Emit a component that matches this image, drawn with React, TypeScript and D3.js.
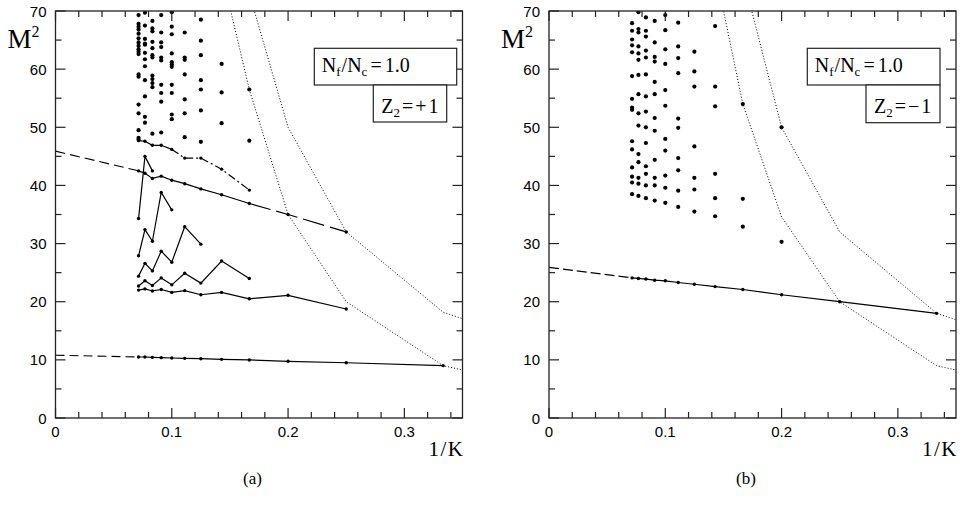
import React from "react";
import * as d3 from "d3";

// K values used as x = 1/K
const kAll = [14, 13, 12, 11, 10, 9, 8, 7, 6, 5, 4, 3];

// panel (a), Z2 = +1 : connected states
const aLowest = [10.49, 10.49, 10.43, 10.38, 10.32, 10.26, 10.2, 10.09, 9.98, 9.75, 9.5, 9.0];
const aLowestIntercept = 10.8;
const aSecond = [22.0, 22.2, 21.85, 22.1, 21.6, 21.9, 21.2, 21.6, 20.5, 21.1, 18.75];
const aThird = [22.7, 23.6, 22.8, 24.1, 22.9, 24.9, 23.2, 27.0, 24.0];
const aFourth = [24.4, 26.6, 25.3, 28.7, 26.8, 32.9, 29.9];
const aFifth = [27.9, 32.4, 30.4, 38.8, 35.8];
const aSixth = [34.3, 45.0, 42.5];
const aUpper = [42.5, 42.1, 41.2, 41.6, 40.9, 40.3, 39.4, 38.4, 36.9, 35.0, 32.0];
const aUpperIntercept = 45.9;
const aTop = [47.7, 47.6, 46.9, 46.9, 46.2, 44.7, 44.7, 42.8, 39.2];

// panel (a) loose points, by K
const aDots: Record<number, number[]> = {
  14: [69.3, 67.8, 67.3, 66.8, 66.1, 65.3, 64.6, 64.0, 63.4, 63.0, 62.6, 59.1, 58.7, 53.9, 52.4, 49.5, 48.2, 47.9],
  13: [69.7, 67.5, 65.2, 64.4, 64.2, 62.8, 61.7, 60.5, 58.1, 55.3, 51.8, 50.8],
  12: [68.3, 67.0, 66.5, 64.7, 63.6, 62.4, 62.0, 58.9, 58.3, 57.6, 56.9, 48.9],
  11: [69.3, 66.3, 64.6, 63.8, 62.0, 61.5, 57.3, 55.9, 54.4, 49.1],
  10: [69.8, 67.3, 66.0, 62.7, 61.2, 60.8, 60.4, 57.3, 55.9, 52.2, 51.4],
  9: [66.3, 62.0, 61.6, 59.1, 54.8, 52.4, 48.3],
  8: [68.5, 64.9, 62.4, 58.1, 56.5, 52.9, 47.5],
  7: [60.9, 56.0, 50.7],
  6: [56.5, 47.7],
};

// panel (b), Z2 = -1
const bLowest = [24.1, 24.0, 23.9, 23.7, 23.6, 23.3, 23.0, 22.6, 22.1, 21.2, 20.0, 18.0];
const bLowestIntercept = 25.9;
const bDots: Record<number, number[]> = {
  14: [67.9, 66.6, 65.1, 64.1, 62.9, 58.8, 54.9, 53.4, 53.0, 47.6, 46.2, 43.1, 41.5, 40.5, 38.5],
  13: [69.8, 66.9, 66.3, 63.9, 62.7, 61.6, 59.0, 55.7, 52.4, 50.3, 45.4, 44.0, 41.3, 40.3, 38.2],
  12: [68.9, 66.6, 65.6, 63.2, 62.0, 59.1, 55.3, 52.7, 50.0, 47.3, 43.3, 42.0, 40.0, 37.8],
  11: [68.3, 64.6, 62.1, 61.3, 57.8, 55.7, 51.6, 49.4, 44.4, 41.3, 40.0, 37.4],
  10: [69.3, 66.7, 63.4, 60.9, 56.4, 53.7, 48.0, 46.0, 41.7, 39.6, 37.0],
  9: [68.0, 63.9, 61.9, 59.3, 51.5, 49.9, 44.7, 42.6, 39.1, 36.3],
  8: [63.0, 59.6, 57.0, 46.7, 41.3, 39.3, 35.5],
  7: [67.4, 57.0, 53.6, 42.0, 37.8, 34.7],
  6: [54.0, 37.7, 32.9],
  5: [50.0, 30.3],
};

// dotted threshold curves, K = 7..2
const curveK = [7, 6, 5, 4, 3, 2];
const aCurveA = [76.6, 56.5, 35.0, 20.0, 9.0, 1.5];
const aCurveB = [95, 73.0, 50.0, 32.0, 18.2, 7.0];
const bCurveA = [77.0, 54.0, 34.6, 20.0, 9.0, 1.5];
const bCurveB = [98, 76.0, 50.0, 32.0, 18.0, 7.0];

const xTicks = d3.range(0, 0.3501, 0.02);
const xLabels = [0, 0.1, 0.2, 0.3];
const yTicks = d3.range(0, 70.01, 5);
const yLabels = [0, 10, 20, 30, 40, 50, 60, 70];

const SERIF = "'Liberation Serif', 'DejaVu Serif', Times, serif";
const SANS = "'Liberation Sans', Arial, Helvetica, sans-serif";
const INK = "#222";

type Seg = { ks: number[]; vals: number[]; dash?: string };

type PanelProps = {
  id: string;
  left: number;
  segs: Seg[];
  extensions: { k: number; from: number; to: number; dash: string }[];
  vertices: { ks: number[]; vals: number[] }[];
  dots: Record<number, number[]>;
  curves: number[][];
  legend: { b1: number[]; b2: number[]; sign: string };
  tag: string;
};

const Panel: React.FC<PanelProps> = ({ id, left, segs, extensions, vertices, dots, curves, legend, tag }) => {
  const x = d3.scaleLinear().domain([0, 0.35]).range([left, left + 407]);
  const y = d3.scaleLinear().domain([0, 70]).range([418, 11]);
  const line = d3
    .line<[number, number]>()
    .x((d) => x(d[0]))
    .y((d) => y(d[1]));
  const pts = (ks: number[], vals: number[]) => vals.map((v, i) => [1 / ks[i], v] as [number, number]);

  const [x0, x1] = x.range();
  const [yb, yt] = y.range();

  return (
    <g>
      <defs>
        <clipPath id={id}>
          <rect x={x0} y={yt} width={x1 - x0} height={yb - yt} />
        </clipPath>
      </defs>

      <g clipPath={`url(#${id})`} fill="none" stroke="#000">
        {curves.map((c, i) => (
          <path key={i} d={line(pts(curveK, c)) as string} strokeWidth={1} strokeDasharray="1,2" />
        ))}
        {extensions.map((e, i) => (
          <path
            key={"e" + i}
            d={line([[0, e.from], [1 / e.k, e.to]]) as string}
            strokeWidth={1.1}
            strokeDasharray={e.dash}
          />
        ))}
        {segs.map((s, i) => (
          <path key={"s" + i} d={line(pts(s.ks, s.vals)) as string} strokeWidth={1.2} strokeDasharray={s.dash} />
        ))}
      </g>

      <g clipPath={`url(#${id})`} fill="#000">
        {vertices.map((v, i) =>
          pts(v.ks, v.vals).map((p, j) => <circle key={`v${i}-${j}`} cx={x(p[0])} cy={y(p[1])} r={1.7} />)
        )}
        {Object.entries(dots).map(([k, vals]) =>
          vals.map((v, j) => <circle key={`d${k}-${j}`} cx={x(1 / +k)} cy={y(v)} r={2.1} />)
        )}
      </g>

      {/* frame and ticks on all sides */}
      <rect x={x0} y={yt} width={x1 - x0} height={yb - yt} fill="none" stroke={INK} strokeWidth={1.3} />
      <g stroke={INK} strokeWidth={1.2}>
        {xTicks.map((t) => {
          const major = Math.abs(t * 10 - Math.round(t * 10)) < 1e-6;
          const len = major ? 10 : 6;
          return (
            <g key={"xt" + t}>
              <line x1={x(t)} x2={x(t)} y1={yb} y2={yb - len} />
              <line x1={x(t)} x2={x(t)} y1={yt} y2={yt + len} />
            </g>
          );
        })}
        {yTicks.map((t) => {
          const len = t % 10 === 0 ? 10 : 6;
          return (
            <g key={"yt" + t}>
              <line x1={x0} x2={x0 + len} y1={y(t)} y2={y(t)} />
              <line x1={x1} x2={x1 - len} y1={y(t)} y2={y(t)} />
            </g>
          );
        })}
      </g>

      <g fontFamily={SANS} fontSize={15} fill="#000">
        {xLabels.map((t) => (
          <text key={"xl" + t} x={x(t)} y={437} textAnchor="middle">
            {t === 0 ? "0" : t.toFixed(1)}
          </text>
        ))}
        {yLabels.map((t) => (
          <text key={"yl" + t} x={x0 - 9} y={y(t) + 5.5} textAnchor="end">
            {t}
          </text>
        ))}
      </g>

      <g fontFamily={SERIF} fill="#000">
        <text x={left - 48} y={48} fontSize={27}>
          M
          <tspan fontSize={16} dy={-11}>
            2
          </tspan>
        </text>
        <text x={left + 373} y={456} fontSize={21} letterSpacing={1.5}>
          1/K
        </text>
        <text x={left + 197} y={484} fontSize={17} textAnchor="middle">
          {tag}
        </text>
      </g>

      {/* legend boxes */}
      <g fontFamily={SERIF} fill="#000">
        <rect
          x={legend.b1[0]}
          y={legend.b1[1]}
          width={legend.b1[2] - legend.b1[0]}
          height={legend.b1[3] - legend.b1[1]}
          fill="#fff"
          stroke={INK}
          strokeWidth={1.2}
        />
        <rect
          x={legend.b2[0]}
          y={legend.b2[1]}
          width={legend.b2[2] - legend.b2[0]}
          height={legend.b2[3] - legend.b2[1]}
          fill="#fff"
          stroke={INK}
          strokeWidth={1.2}
        />
        <text x={legend.b1[0] + 7.5} y={legend.b1[1] + 23.5} fontSize={20}>
          N
          <tspan fontSize={13} dy={4}>
            f
          </tspan>
          <tspan dy={-4} dx={1}>
            /N
          </tspan>
          <tspan fontSize={13} dy={4}>
            c
          </tspan>
          <tspan dy={-4} dx={3}>
            =
          </tspan>
          <tspan dx={3}>1.0</tspan>
        </text>
        <text x={legend.b2[0] + 8} y={legend.b2[1] + 27.5} fontSize={20}>
          Z
          <tspan fontSize={13} dy={4}>
            2
          </tspan>
          <tspan dy={-4} dx={2}>
            =
          </tspan>
          <tspan dx={2}>{legend.sign}</tspan>
          <tspan dx={2}>1</tspan>
        </text>
      </g>
    </g>
  );
};

const App: React.FC = () => {
  const ks = (n: number) => kAll.slice(0, n);
  const aSegs: Seg[] = [
    { ks: kAll, vals: aLowest },
    { ks: ks(11), vals: aSecond },
    { ks: ks(9), vals: aThird },
    { ks: ks(7), vals: aFourth },
    { ks: ks(5), vals: aFifth },
    { ks: ks(3), vals: aSixth },
    { ks: ks(9), vals: aUpper.slice(0, 9) },
    { ks: kAll.slice(8, 11), vals: aUpper.slice(8, 11), dash: "22,6" },
    { ks: ks(5), vals: aTop.slice(0, 5) },
    { ks: kAll.slice(4, 9), vals: aTop.slice(4, 9), dash: "8,3,2,3" },
  ];
  const aVerts = [
    { ks: kAll, vals: aLowest },
    { ks: ks(11), vals: aSecond },
    { ks: ks(9), vals: aThird },
    { ks: ks(7), vals: aFourth },
    { ks: ks(5), vals: aFifth },
    { ks: ks(3), vals: aSixth },
    { ks: ks(11), vals: aUpper },
    { ks: ks(9), vals: aTop },
  ];

  return (
    <svg
      width={967}
      height={510}
      style={{ position: "absolute", left: 0, top: 0, background: "#fff" }}
    >
      <Panel
        id="clipA"
        left={55.5}
        segs={aSegs}
        extensions={[
          { k: 14, from: aLowestIntercept, to: aLowest[0], dash: "9,5" },
          { k: 14, from: aUpperIntercept, to: aUpper[0], dash: "10,5" },
        ]}
        vertices={aVerts}
        dots={aDots}
        curves={[aCurveA, aCurveB]}
        legend={{ b1: [314.3, 48.3, 456.7, 85], b2: [373.3, 85, 446.7, 122], sign: "+" }}
        tag="(a)"
      />
      <Panel
        id="clipB"
        left={549}
        segs={[{ ks: kAll, vals: bLowest }]}
        extensions={[{ k: 14, from: bLowestIntercept, to: bLowest[0], dash: "10,4" }]}
        vertices={[{ ks: kAll, vals: bLowest }]}
        dots={bDots}
        curves={[bCurveA, bCurveB]}
        legend={{ b1: [807.3, 48.3, 940, 85], b2: [866, 85, 940, 122.7], sign: "\u2212" }}
        tag="(b)"
      />
    </svg>
  );
};

export default App;
